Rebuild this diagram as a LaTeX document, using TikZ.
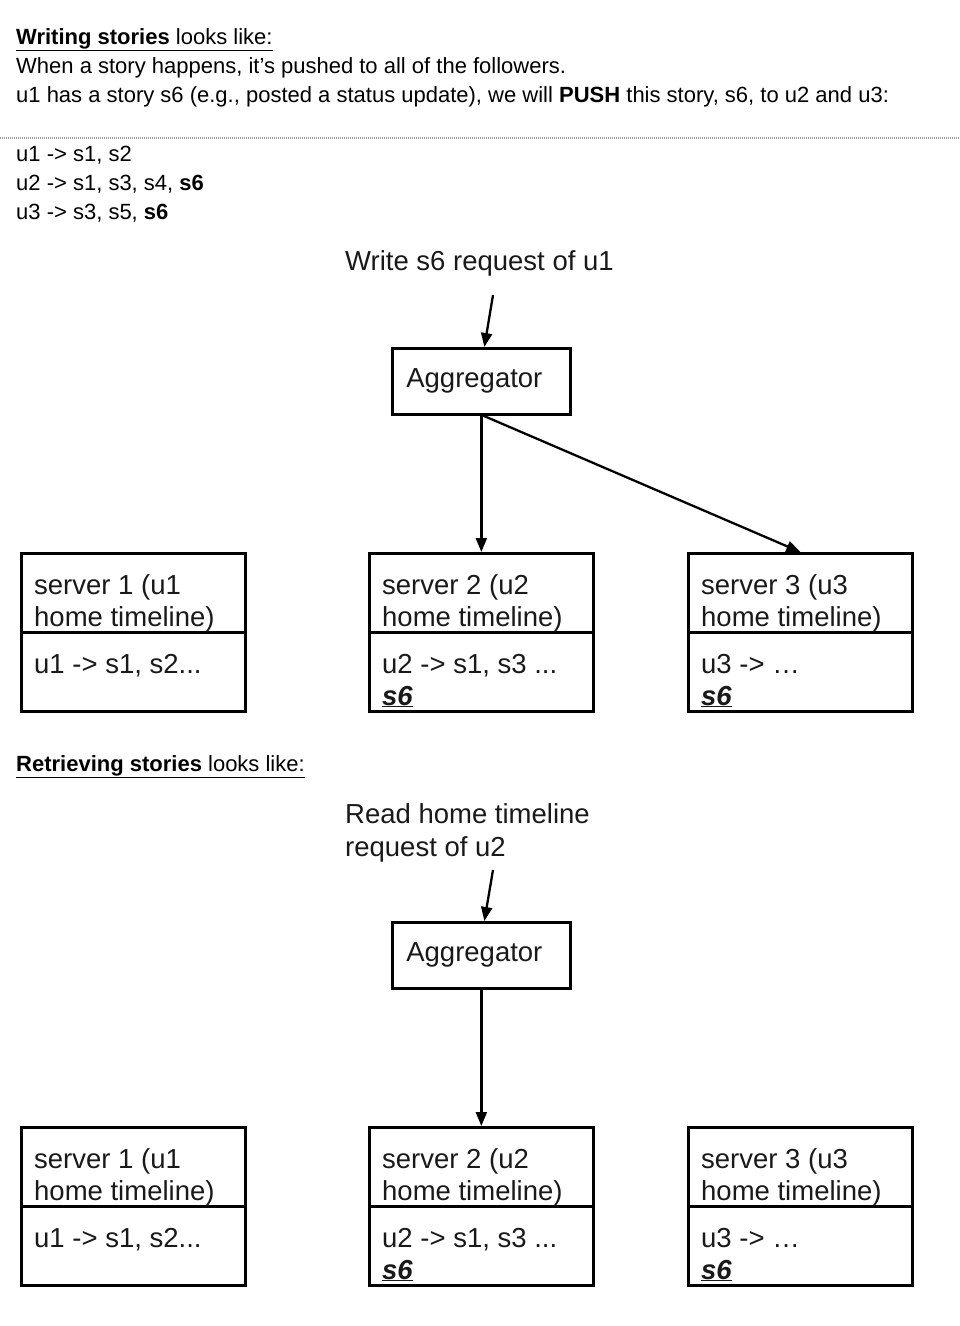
\documentclass[tikz,border=0pt]{standalone}
\usepackage{fontspec}
\setmainfont{Liberation Sans}
\usetikzlibrary{arrows.meta}
\begin{document}
\begin{tikzpicture}[x=1pt,y=-1pt,
  txt/.style={anchor=base west, inner sep=0pt, font=\fontsize{22}{29}\selectfont},
  dtxt/.style={anchor=base west, inner sep=0pt, font=\fontsize{27.5}{32}\selectfont, text=black!90},
  boxpart/.style={draw, line width=2.7pt, anchor=north west, minimum width=224pt, minimum height=79pt, inner sep=0pt},
  aggbox/.style={draw, line width=2.7pt, anchor=north west, minimum width=178pt, minimum height=66pt, text width=150pt, align=left, inner xsep=14pt, inner ysep=0pt, font=\fontsize{27.5}{32}\selectfont, text=black!90},
  conn/.style={line width=2.3pt, -{Triangle[length=14pt,width=11pt]}},
  sepline/.style={gray!75, line width=1.3pt, dash pattern=on 1pt off 1pt},
]
\useasboundingbox (0,0) rectangle (960,1326);

% header text
\node[txt] (h1) at (16,44) {\underline{\textbf{Writing stories} looks like:}};
\node[txt] (h2) at (16,73) {When a story happens, it’s pushed to all of the followers.};
\node[txt] (h3) at (16,102) {u1 has a story s6 (e.g., posted a status update), we will \textbf{PUSH} this story, s6, to u2 and u3:};

\coordinate (sepL) at (0,138);
\coordinate (sepR) at (960,138);
\draw[sepline] (sepL) -- (sepR);

\node[txt] (l1) at (16,161) {u1 -> s1, s2};
\node[txt] (l2) at (16,190) {u2 -> s1, s3, s4, \textbf{s6}};
\node[txt] (l3) at (16,219) {u3 -> s3, s5, \textbf{s6}};

\node[txt] (h4) at (16,771) {\underline{\textbf{Retrieving stories} looks like:}};

% requests
\node[dtxt] (wreq) at (345,270) {Write s6 request of u1};
\node[dtxt] (rreq1) at (345,823) {Read home timeline};
\node[dtxt] (rreq2) at (345,856) {request of u2};

\coordinate (win) at (493,295);
\coordinate (rin) at (493,870);

\foreach \p/\o in {w/0, r/574} {
  \node[aggbox] (\p agg) at (391,347+\o) {Aggregator};
  % server boxes
  \node[boxpart] (\p1top) at (20,552+\o) {};
  \node[boxpart] (\p1bot) at (20,631+\o) {};
  \node[boxpart] (\p2top) at (368,552+\o) {};
  \node[boxpart] (\p2bot) at (368,631+\o) {};
  \node[boxpart] (\p3top) at (687,552+\o) {};
  \node[boxpart] (\p3bot) at (687,631+\o) {};
  % texts
  \node[dtxt] (\p1a) at (34,594+\o) {server 1 (u1};
  \node[dtxt] (\p1b) at (34,626+\o) {home timeline)};
  \node[dtxt] (\p1c) at (34,673+\o) {u1 -> s1, s2...};
  \node[dtxt] (\p2a) at (382,594+\o) {server 2 (u2};
  \node[dtxt] (\p2b) at (382,626+\o) {home timeline)};
  \node[dtxt] (\p2c) at (382,673+\o) {u2 -> s1, s3 ...};
  \node[dtxt] (\p2d) at (382,705+\o) {\underline{\textbf{\textit{s6}}}};
  \node[dtxt] (\p3a) at (701,594+\o) {server 3 (u3};
  \node[dtxt] (\p3b) at (701,626+\o) {home timeline)};
  \node[dtxt] (\p3c) at (701,673+\o) {u3 -> …};
  \node[dtxt] (\p3d) at (701,705+\o) {\underline{\textbf{\textit{s6}}}};
  % arrow to server 2
  \draw[conn] (\p agg.south) -- (\p2top.north);
}

\draw[conn] (win) -- ([xshift=3pt]wagg.north);
\draw[conn] (rin) -- ([xshift=3pt]ragg.north);
\draw[conn] ([xshift=2pt]wagg.south) -- (w3top.north);
\end{tikzpicture}
\end{document}
